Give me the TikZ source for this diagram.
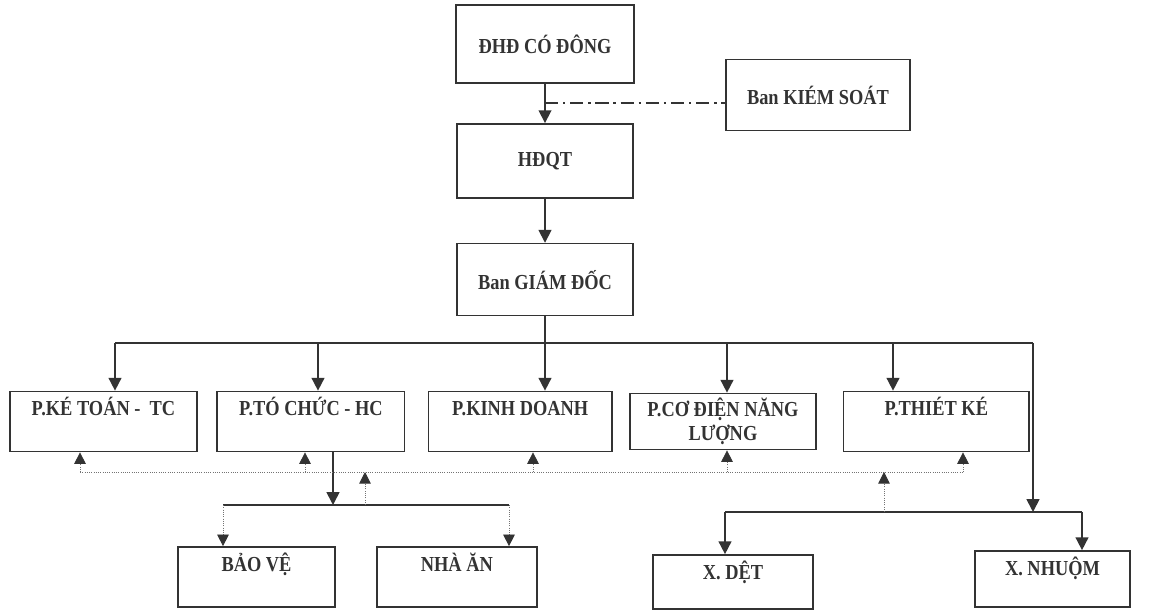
\documentclass[tikz,border=0pt]{standalone}
\usepackage{fontspec}
\setmainfont{Liberation Serif}[FakeStretch=0.86]
\usetikzlibrary{arrows.meta,positioning}
\tikzset{
  unit/.style={draw=black!80, line width=1.2pt, align=center, inner sep=0pt,
    font=\bfseries\fontsize{15.2}{17}\selectfont, text=black!80},
  topunit/.style={unit, minimum width=4.4cm, minimum height=1.85cm},
  dept/.style={unit, text height=0.6cm, text depth=0.9cm},
  link/.style={line width=1.2pt, draw=black!80},
  arr/.style={link, -{Triangle[length=3.2mm,width=3.2mm]}},
  fb/.style={densely dotted, line width=0.6pt, draw=black!55},
  fbarr/.style={fb, -{Triangle[length=2.9mm,width=2.9mm,color=black!80]}},
  ctrl/.style={line width=1.2pt, draw=black!80,
    dash pattern=on 3.3mm off 1.2mm on 0.6mm off 1.2mm}
}
\begin{document}
\begin{tikzpicture}[x=0.025cm, y=-0.025cm]
  \useasboundingbox (0,0) rectangle (1170,611);

  % top of the chart
  \node[topunit, minimum height=1.95cm, minimum width=4.45cm] (dhd) at (545,44) {ĐHĐ CÓ ĐÔNG};
  \node[topunit, below=0.98cm of dhd] (hdqt) {HĐQT};
  \node[topunit, below=1.1cm of hdqt, minimum height=1.8cm] (bgd) {Ban GIÁM ĐỐC};
  \node[unit, minimum width=4.6cm, minimum height=1.78cm] (bks) at (818,95) {Ban KIÉM SOÁT};

  \draw[arr] (dhd) -- (hdqt);
  \draw[arr] (hdqt) -- (bgd);
  \coordinate (ks) at (545,103);
  \draw[ctrl] (ks) -- (ks -| bks.west);

  % phong ban
  \node[dept, minimum width=4.68cm] (kt) at (103.5,421.5) {P.KÉ TOÁN -\ \ TC};
  \node[dept, minimum width=4.68cm, right=0.46cm of kt] (tc) {P.TÓ CHỨC - HC};
  \node[dept, minimum width=4.58cm, right=0.56cm of tc] (kd) {P.KINH DOANH};
  \node[unit, minimum width=4.65cm, minimum height=1.4cm, right=0.41cm of kd] (cd) {P.CƠ ĐIỆN NĂNG\\LƯỢNG};
  \node[dept, minimum width=4.63cm, right=0.65cm of cd] (tk) {P.THIÉT KÉ};

  % bo phan phu tro va xuong
  \node[dept, minimum width=3.93cm] (bv) at (256.5,577) {BẢO VỆ};
  \node[dept, minimum width=4cm, right=1cm of bv] (na) {NHÀ ĂN};
  \node[dept, minimum width=4cm, text depth=0.75cm] (xd) at (733,582) {X. DỆT};
  \node[dept, minimum width=3.88cm, text depth=0.8cm] (xn) at (1052.5,579) {X. NHUỘM};

  % main bus
  \coordinate (busL) at (115,343);
  \coordinate (busR) at (1033,343);
  \draw[link] (bgd.south) -- (bgd.south |- busL);
  \draw[link] (busL) -- (busR);
  \draw[arr] (busL) -- (busL |- kt.north);
  \coordinate (b-tc) at (318,343);
  \coordinate (b-cd) at (727,343);
  \coordinate (b-tk) at (893,343);
  \draw[arr] (b-tc) -- (b-tc |- tc.north);
  \draw[arr] (bgd.south |- busL) -- (bgd.south |- kd.north);
  \draw[arr] (b-cd) -- (b-cd |- cd.north);
  \draw[arr] (b-tk) -- (b-tk |- tk.north);

  % to chuc -> bao ve, nha an
  \coordinate (sb-l) at (223,505);
  \coordinate (sb-r) at (509,505);
  \coordinate (sb-m) at (333,505);
  \draw[arr] (sb-m |- tc.south) -- (sb-m);
  \draw[link] (sb-l) -- (sb-r);
  \draw[fbarr] (sb-l) -- (sb-l |- bv.north);
  \draw[fbarr] (sb-r) -- (sb-r |- na.north);

  % xuong
  \coordinate (xb-l) at (725,512);
  \coordinate (xb-r) at (1082,512);
  \draw[arr] (busR) -- (busR |- xb-l);
  \draw[link] (xb-l) -- (xb-r);
  \draw[arr] (xb-l) -- (xb-l |- xd.north);
  \draw[arr] (xb-r) -- (xb-r |- xn.north);

  % feedback (dotted)
  \coordinate (fbL) at (80,472);
  \coordinate (fbR) at (963,472);
  \coordinate (fb-tc) at (305,472);
  \coordinate (fb-kd) at (533,472);
  \coordinate (fb-cd) at (727,472);
  \coordinate (fb-sb) at (365,472);
  \coordinate (fb-x) at (884,472);
  \draw[fb] (fbL) -- (fbR);
  \draw[fbarr] (fbL) -- (fbL |- kt.south);
  \draw[fbarr] (fb-tc) -- (fb-tc |- tc.south);
  \draw[fbarr] (fb-kd) -- (fb-kd |- kd.south);
  \draw[fbarr] (fb-cd) -- (fb-cd |- cd.south);
  \draw[fbarr] (fbR) -- (fbR |- tk.south);
  \draw[fbarr] (fb-sb |- sb-l) -- (fb-sb);
  \draw[fbarr] (fb-x |- xb-l) -- (fb-x);
\end{tikzpicture}
\end{document}
